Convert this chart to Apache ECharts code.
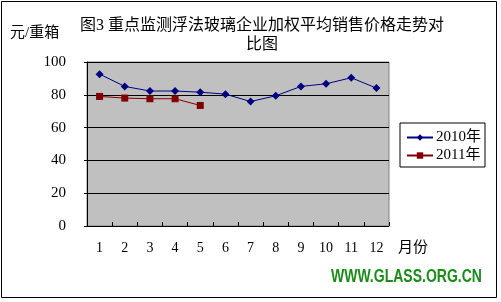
<!DOCTYPE html>
<html><head><meta charset="utf-8">
<script src="https://cdn.jsdelivr.net/npm/echarts@6/dist/echarts.min.js"></script>
<style>html,body{margin:0;padding:0;background:#fff}#c{width:501px;height:302px}</style>
</head><body><div id="c"></div>
<script>
const months = ['1','2','3','4','5','6','7','8','9','10','11','12'];
const s2010 = [92.6, 85.1, 82.3, 82.3, 81.6, 80.4, 75.9, 79.4, 85.1, 86.7, 90.4, 84.1];
const s2011 = [79.0, 78.0, 77.6, 77.6, 73.5];
const yTicks = [0, 20, 40, 60, 80, 100];
const FONT = '"Liberation Serif", "Noto Sans CJK SC", serif';
const chart = echarts.init(document.getElementById('c'));
chart.setOption({
  backgroundColor: '#fff',
  animation: false,
  graphic: [
    {type:'rect', shape:{x:1.5,y:1.5,width:495,height:296}, style:{fill:'none',stroke:'#000',lineWidth:1}, z:-1},
    {type:'text', left:10, top:26, style:{text:'元/重箱', font:'15px '+FONT, fill:'#000'}},
    {type:'text', left:398, top:241, style:{text:'月份', font:'15px '+FONT, fill:'#000'}},
    {type:'text', x:331, y:277.5, scaleY:1.25, style:{text:'WWW.GLASS.ORG.CN', verticalAlign:'middle', font:'bold 14px Arial, "Liberation Sans", sans-serif', fill:'#1a8c1a'}}
  ],
  title: {
    text: '图3 重点监测浮法玻璃企业加权平均销售价格走势对\n比图',
    left: 257, top: 11, textAlign: 'center',
    textStyle: {fontSize: 16, fontWeight: 'normal', fontFamily: FONT, color: '#000', lineHeight: 19}
  },
  legend: {
    orient: 'vertical', left: 400, top: 123,
    backgroundColor: '#fff', borderColor: '#000', borderWidth: 1, borderRadius: 0,
    padding: [7, 4, 4, 6], itemGap: 3, itemWidth: 26, itemHeight: 8,
    textStyle: {fontSize: 15, fontFamily: FONT, color: '#000', padding: [0,0,0,-2]},
    data: ['2010年', '2011年']
  },
  grid: {left: 87, top: 62, width: 302, height: 164, show: true, backgroundColor: '#C0C0C0', borderColor: '#808080', borderWidth: 1},
  xAxis: {
    type: 'category', data: months, boundaryGap: true,
    axisLine: {lineStyle: {color: '#000'}},
    axisTick: {show: true, inside: true, length: 4, lineStyle: {color: '#000'}},
    axisLabel: {fontSize: 14, fontFamily: FONT, color: '#000', margin: 15}
  },
  yAxis: {
    type: 'value', min: 0, max: 100, interval: 20,
    axisLine: {show: true, lineStyle: {color: '#000'}},
    axisTick: {show: true, length: 3, lineStyle: {color: '#000'}},
    splitLine: {lineStyle: {color: '#000', width: 1}},
    axisLabel: {fontSize: 15, fontFamily: FONT, color: '#000', margin: 21,
      formatter: v => yTicks.includes(v) ? String(v) : ''}
  },
  series: [
    {name: '2010年', type: 'line', data: s2010, symbol: 'diamond', symbolSize: 8,
     itemStyle: {color: '#000080'}, lineStyle: {color: '#000080', width: 1}},
    {name: '2011年', type: 'line', data: s2011, symbol: 'rect', symbolSize: 7,
     itemStyle: {color: '#800000'}, lineStyle: {color: '#800000', width: 1}}
  ]
});
</script></body></html>
